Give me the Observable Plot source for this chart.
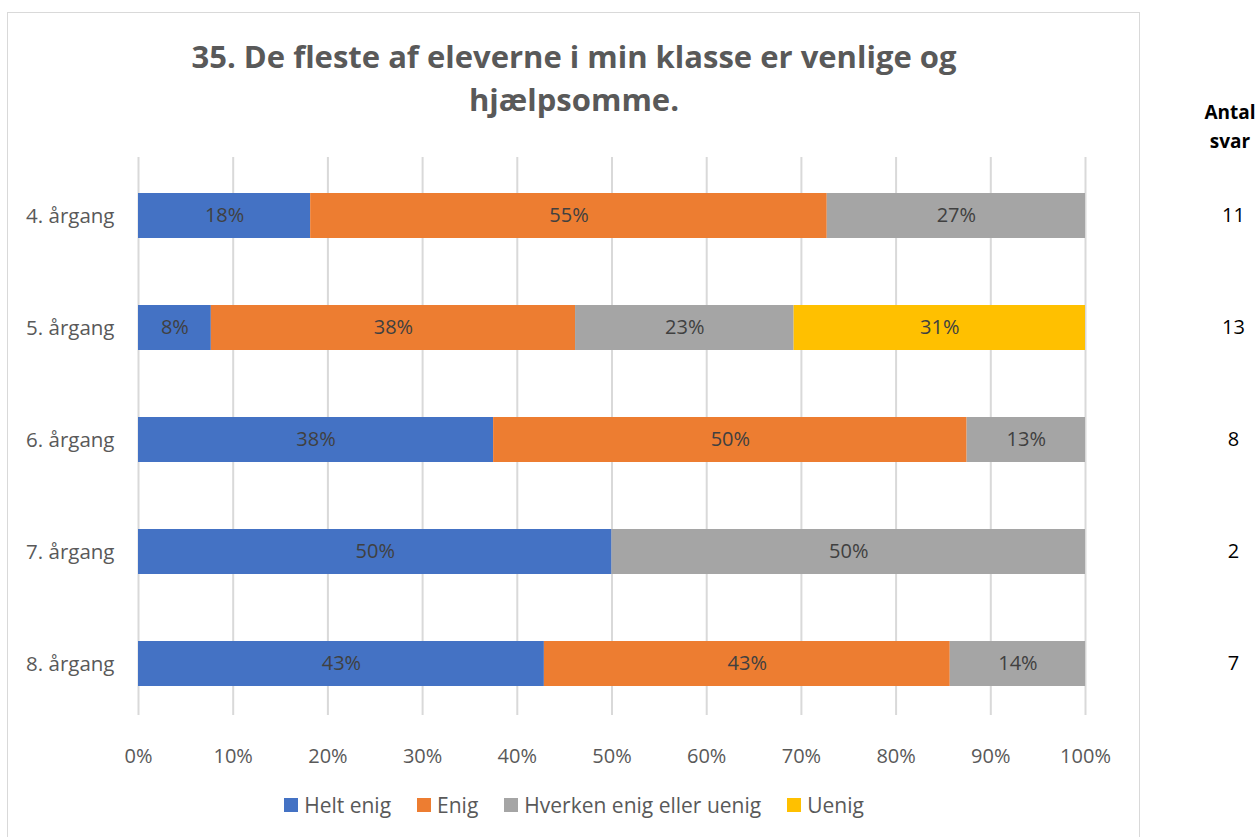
<!DOCTYPE html>
<html>
<head>
<meta charset="utf-8">
<script src="https://cdn.jsdelivr.net/npm/d3@7"></script>
<script src="https://cdn.jsdelivr.net/npm/@observablehq/plot@0.6"></script>
<style>
  body { margin: 0; background: #fff; }
  #wrap { position: relative; width: 1259px; height: 837px; overflow: hidden; font-family: "Open Sans", sans-serif; }
  #box { position: absolute; left: 7px; top: 12px; width: 1133px; height: 900px; border: 1px solid #d9d9d9; box-sizing: border-box; }
  #title { position: absolute; left: 7px; top: 35px; width: 1134px; text-align: center; font-weight: bold; font-size: 31px; line-height: 43px; color: #595959; }
  #antal { position: absolute; left: 1190px; top: 98px; width: 80px; text-align: center; font-weight: bold; font-size: 19px; line-height: 29px; color: #000; }
  #legend { position: absolute; left: 7px; top: 791px; width: 1134px; display: flex; justify-content: center; font-size: 21px; color: #595959; line-height: 28px; }
  .item { display: flex; align-items: center; margin: 0 13px; }
  .sw { width: 14px; height: 14px; margin-right: 6px; }
  #chart { position: absolute; left: 0; top: 0; }
</style>
</head>
<body>
<div id="wrap">
  <div id="box"></div>
  <div id="title">35. De fleste af eleverne i min klasse er venlige og<br>hjælpsomme.</div>
  <div id="chart"></div>
  <div id="antal">Antal<br>svar</div>
  <div id="legend"></div>
</div>
<script>
const categories = ["4. årgang", "5. årgang", "6. årgang", "7. årgang", "8. årgang"];
const series = ["Helt enig", "Enig", "Hverken enig eller uenig", "Uenig"];
const colors = ["#4472C4", "#ED7D31", "#A5A5A5", "#FFC000"];
const heltEnig = [18.18, 7.69, 37.5, 50, 42.86];
const enig = [54.55, 38.46, 50, 0, 42.86];
const hverken = [27.27, 23.08, 12.5, 50, 14.29];
const uenig = [0, 30.77, 0, 0, 0];
const antalSvar = [11, 13, 8, 2, 7];
const xTicks = [0, 10, 20, 30, 40, 50, 60, 70, 80, 90, 100];

const seriesValues = [heltEnig, enig, hverken, uenig];
const rows = [];
categories.forEach((cat, i) => {
  series.forEach((s, j) => {
    const v = seriesValues[j][i];
    if (v > 0) rows.push({cat, series: s, value: v});
  });
});
const counts = categories.map((cat, i) => ({cat, n: antalSvar[i]}));

const chart = Plot.plot({
  width: 1259,
  height: 837,
  marginLeft: 138,
  marginRight: 174,
  marginTop: 157,
  marginBottom: 116,
  style: {fontFamily: "'Open Sans', sans-serif", fontSize: "20px", color: "#595959", background: "transparent", overflow: "visible"},
  x: {domain: [0, 100]},
  y: {domain: categories, paddingInner: 0.6, paddingOuter: 0.3},
  color: {domain: series, range: colors},
  marks: [
    Plot.ruleX(xTicks, {x: d => d, stroke: "#d9d9d9", strokeWidth: 2, insetBottom: 6}),
    Plot.barX(rows, Plot.stackX({x: "value", y: "cat", fill: "series", order: series})),
    Plot.text(rows, Plot.stackX({x: "value", y: "cat", z: "series", order: series, text: d => Math.round(d.value) + "%", fill: "#404040", fontSize: 20})),
    Plot.text(counts, {y: "cat", text: "n", frameAnchor: "right", dx: 148, textAnchor: "middle", fill: "#000", fontSize: 20}),
    Plot.axisX({ticks: xTicks, tickSize: 0, tickPadding: 27, tickFormat: d => d + "%", label: null, fill: "#595959"}),
    Plot.axisY({tickSize: 0, tickPadding: 24, label: null, fill: "#595959", fontSize: 20.5})
  ]
});
document.getElementById("chart").appendChild(chart);

const legend = document.getElementById("legend");
series.forEach((s, i) => {
  const item = document.createElement("div");
  item.className = "item";
  const sw = document.createElement("div");
  sw.className = "sw";
  sw.style.background = colors[i];
  const t = document.createElement("span");
  t.textContent = s;
  item.appendChild(sw);
  item.appendChild(t);
  legend.appendChild(item);
});
</script>
</body>
</html>
